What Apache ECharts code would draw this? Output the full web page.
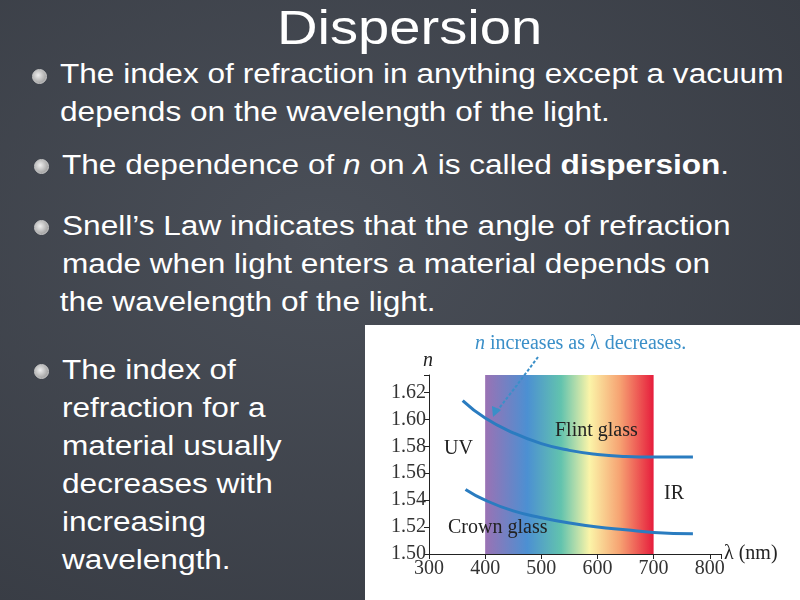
<!DOCTYPE html>
<html lang="en">
<head>
<meta charset="UTF-8">
<script src="https://cdn.jsdelivr.net/npm/echarts@6/dist/echarts.min.js"></script>
<style>
    body { margin: 0; width: 800px; height: 600px; overflow: hidden;
        background: radial-gradient(ellipse at 40% 40%, #4a4f58, #363a42);
        font-family: "Liberation Sans", Arial, sans-serif; color: #fff; position: relative; }
    .t { position: absolute; font-size: 27px; line-height: 38px; white-space: nowrap;
        transform: scaleX(1.17); transform-origin: left top; }
    .b { position: absolute; width: 13px; height: 13px; border-radius: 50%;
        background: radial-gradient(circle at 40% 40%, #eee, #888); border: 1px solid #ccc; }
    #chart { position: absolute; left: 365px; top: 325px; width: 435px; height: 275px; background: #fff; }
</style>
</head>
<body>
<div class="t" style="left:277px;top:0px;font-size:48px;line-height:56px;">Dispersion</div>
<div class="b" style="left:32px;top:69px"></div>
<div class="t" style="left:60px;top:55px">The index of refraction in anything except a vacuum<br>depends on the wavelength of the light.</div>
<div class="b" style="left:34px;top:159px"></div>
<div class="t" style="left:62px;top:146px">The dependence of <i>n</i> on <i>λ</i> is called <b>dispersion</b>.</div>
<div class="b" style="left:34px;top:220px"></div>
<div class="t" style="left:62px;top:207px">Snell’s Law indicates that the angle of refraction<br>made when light enters a material depends on<br><span style="margin-left:-2px">the wavelength of the light.</span></div>
<div class="b" style="left:34px;top:364px"></div>
<div class="t" style="left:62px;top:351px">The index of<br>refraction for a<br>material usually<br>decreases with<br>increasing<br>wavelength.</div>
<div id="chart"></div>
<script>
    // wavelength (nm) and refractive index
    let flintX = [360, 400, 450, 500, 550, 600, 650, 700, 770];
    let flintN = [1.614, 1.601, 1.590, 1.582, 1.577, 1.574, 1.5725, 1.572, 1.572];
    let crownX = [365, 400, 450, 500, 550, 600, 650, 700, 770];
    let crownN = [1.548, 1.540, 1.532, 1.527, 1.523, 1.520, 1.518, 1.516, 1.515];
    let yTicks = [1.50, 1.52, 1.54, 1.56, 1.58, 1.60, 1.62];
    let spectrum = [400, 700];

    function pairs(xs, ys) {
        let out = [];
        for (let i = 0; i < xs.length; i++) out.push([xs[i], ys[i]]);
        return out;
    }

    let myChart = echarts.init(document.getElementById('chart'));
    let serif = 'Liberation Serif';
    let lineStyle = { color: '#2a7cc0', width: 3 };

    function label(x, y, text, color, italic) {
        return { type: 'text', x: x, y: y, z: 100,
            style: { text: text, fontFamily: serif, fontSize: 20, fontStyle: italic ? 'italic' : 'normal', fill: color } };
    }

    let option = {
        animation: false,
        grid: { left: 64, right: 79, top: 50, bottom: 46 },
        xAxis: {
            type: 'value', min: 300, max: 820, interval: 100,
            axisLine: { lineStyle: { color: '#222' } },
            axisTick: { length: 5, lineStyle: { color: '#222' } },
            splitLine: { show: false },
            axisLabel: { fontFamily: serif, fontSize: 20, color: '#333', margin: 5,
                formatter: v => v <= 800 ? v : '' }
        },
        yAxis: {
            type: 'value', min: 1.50, max: 1.633, interval: 0.02,
            axisLine: { show: true, lineStyle: { color: '#222' } },
            axisTick: { show: true, length: 5, lineStyle: { color: '#222' } },
            splitLine: { show: false },
            axisLabel: { fontFamily: serif, fontSize: 20, color: '#333', margin: 3,
                formatter: v => yTicks.some(t => Math.abs(t - v) < 1e-6) ? v.toFixed(2) : '' }
        },
        series: [
            {
                type: 'line', data: [], silent: true, z: 1,
                markArea: {
                    silent: true,
                    itemStyle: {
                        color: new echarts.graphic.LinearGradient(0, 0, 1, 0, [
                            { offset: 0, color: '#9a72b4' },
                            { offset: 0.25, color: '#4c90d2' },
                            { offset: 0.45, color: '#62c3ae' },
                            { offset: 0.62, color: '#fbf4a8' },
                            { offset: 0.8, color: '#f6a272' },
                            { offset: 1, color: '#e61d3c' }
                        ])
                    },
                    data: [[{ xAxis: spectrum[0], yAxis: 1.50 }, { xAxis: spectrum[1], yAxis: 1.633 }]]
                }
            },
            { name: 'Flint glass', type: 'line', smooth: true, symbol: 'none', z: 3, data: pairs(flintX, flintN), lineStyle: lineStyle },
            { name: 'Crown glass', type: 'line', smooth: true, symbol: 'none', z: 3, data: pairs(crownX, crownN), lineStyle: lineStyle }
        ],
        graphic: [
            label(110, 9, 'n', '#3a8fc8', true),
            label(125, 9, 'increases as λ decreases.', '#3a8fc8'),
            label(58, 26, 'n', '#222', true),
            label(190, 96, 'Flint glass', '#222'),
            label(79, 114, 'UV', '#222'),
            label(299, 159, 'IR', '#222'),
            label(83, 193, 'Crown glass', '#222'),
            label(359, 219, 'λ (nm)', '#222'),
            { type: 'polyline', z: 100, shape: { points: [[173, 32], [152, 60], [132, 86]], smooth: 0.4 },
              style: { stroke: '#3a8fc8', lineWidth: 2, lineDash: [3, 2], fill: null } },
            { type: 'polygon', z: 100, shape: { points: [[128, 92], [127, 81], [136, 85]] }, style: { fill: '#3a8fc8' } }
        ]
    };
    myChart.setOption(option);
</script>
</body>
</html>
